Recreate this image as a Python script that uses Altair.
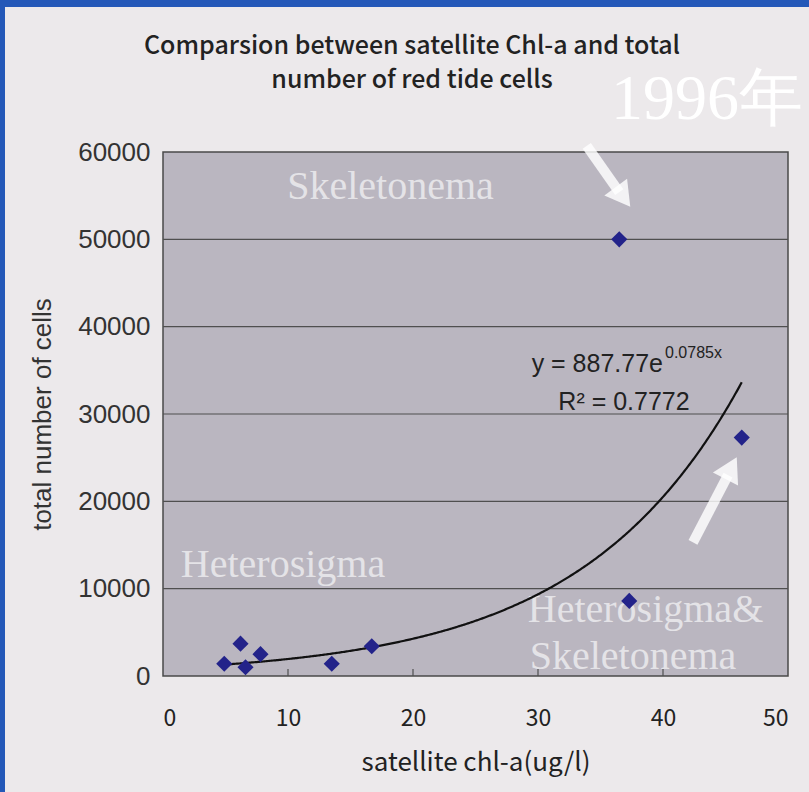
import altair as alt
import pandas as pd

# ---- data ----
chl = [4.9, 6.2, 6.6, 7.8, 13.5, 16.7, 36.5, 37.3, 46.3]
cells = [1400, 3700, 1000, 2500, 1400, 3400, 50000, 8600, 27300]
x_ticks = [0, 10, 20, 30, 40, 50]
y_ticks = [0, 10000, 20000, 30000, 40000, 50000, 60000]
fit_a = 887.77
fit_b = 0.0785
fit_r2 = 0.7772
fit_x_min = 4.9
fit_x_max = 46.4

title_lines = ["Comparsion between satellite Chl-a and total", "number of red tide cells"]
year_label = "1996年"
x_title = "satellite chl-a(ug/l)"
y_title = "total number of cells"

note_text = ["Skeletonema", "Heterosigma", "Heterosigma&", "Skeletonema"]
note_x = [18.2, 9.6, 38.6, 37.6]
note_y = [56000, 12700, 7600, 2200]

arrow_x = [33.9, 42.4]
arrow_y = [60700, 15300]
arrow_x2 = [36.5, 45.2]
arrow_y2 = [55400, 23000]
head_x = [36.8, 45.45]
head_y = [54850, 23800]
head_angle = [143.5, 27.4]

W, H = 625, 524
LEFT, TOP, RIGHT, BOTTOM = 163, 152, 21, 116

xs = alt.Scale(domain=[0, 50], nice=False, zero=False)
ys = alt.Scale(domain=[0, 60000], nice=False, zero=False)

x_axis = alt.Axis(values=x_ticks, grid=False, ticks=False, domain=False, zindex=2, format="d",
                  labelFont="Noto Sans CJK JP", labelFontSize=23, labelColor="#222",
                  labelPadding=31, titleFont="Noto Sans CJK JP", titleFontSize=26,
                  titleFontWeight="normal", titleColor="#222", titlePadding=19)
y_axis = alt.Axis(values=y_ticks, grid=False, ticks=False, domain=False, zindex=2, format="d",
                  labelFont="Liberation Sans", labelFontSize=26, labelColor="#333",
                  labelPadding=13, titleFont="Liberation Sans", titleFontSize=26,
                  titleFontWeight="normal", titleColor="#333", titlePadding=22)


def X(field):
    return alt.X(field, scale=xs, axis=x_axis, title=x_title)


def Y(field):
    return alt.Y(field, scale=ys, axis=y_axis, title=y_title)


one = pd.DataFrame({"k": [0]})

bg = alt.Chart(one).mark_rect(color="#ECE9EB").encode(
    x=alt.value(-LEFT + 5), x2=alt.value(W + RIGHT + 2),
    y=alt.value(-TOP + 7), y2=alt.value(H + BOTTOM + 2))

plot_bg = alt.Chart(one).mark_rect(fill="#BAB6C0", stroke="#4a4a4a", strokeWidth=1.5).encode(
    x=alt.value(0), x2=alt.value(W), y=alt.value(0), y2=alt.value(H))

grid = alt.Chart(pd.DataFrame({"v": y_ticks[1:-1]})).mark_rule(
    color="#4f4f4f", strokeWidth=1.2).encode(
    y=Y("v:Q"), x=alt.value(0), x2=alt.value(W))

xtick_marks = alt.Chart(pd.DataFrame({"v": x_ticks[1:-1]})).mark_rule(
    color="#4f4f4f", strokeWidth=1.2).encode(
    x=X("v:Q"), y=alt.value(H), y2=alt.value(H - 7))

notes = alt.Chart(pd.DataFrame({"t": note_text, "x": note_x, "y": note_y})).mark_text(
    font="Liberation Serif", fontSize=40, color="#ffffff", opacity=0.62).encode(
    x=X("x:Q"), y=Y("y:Q"), text="t:N")

arrows = alt.Chart(pd.DataFrame({"x": arrow_x, "y": arrow_y, "x2": arrow_x2, "y2": arrow_y2})).mark_rule(
    color="#ffffff", strokeWidth=10, opacity=0.82, strokeCap="butt").encode(
    x=X("x:Q"), y=Y("y:Q"), x2="x2:Q", y2="y2:Q")

heads = alt.Chart(pd.DataFrame({"x": head_x, "y": head_y, "a": head_angle})).mark_point(
    shape="triangle-up", filled=True, size=800, color="#ffffff", opacity=0.82).encode(
    x=X("x:Q"), y=Y("y:Q"), angle=alt.Angle("a:Q", scale=None))

trend = alt.Chart(alt.sequence(fit_x_min, fit_x_max, 0.1, as_="x")).transform_calculate(
    y=f"{fit_a} * exp({fit_b} * datum.x)").mark_line(color="#111111", strokeWidth=2.2).encode(
    x=X("x:Q"), y=Y("y:Q"))

points = alt.Chart(pd.DataFrame({"chl": chl, "cells": cells})).mark_point(
    shape="diamond", filled=True, size=260, color="#23238a", opacity=1).encode(
    x=X("chl:Q"), y=Y("cells:Q"))

eq1 = alt.Chart(one).mark_text(font="Liberation Sans", fontSize=25, color="#222", align="right",
                               baseline="alphabetic").encode(
    x=alt.value(500), y=alt.value(220), text=alt.value(f"y = {fit_a}e"))
eq_sup = alt.Chart(one).mark_text(font="Liberation Sans", fontSize=16, color="#222", align="left",
                                  baseline="alphabetic").encode(
    x=alt.value(502), y=alt.value(206), text=alt.value(f"{fit_b}x"))
eq2 = alt.Chart(one).mark_text(font="Liberation Sans", fontSize=25, color="#222", align="center",
                               baseline="alphabetic").encode(
    x=alt.value(461), y=alt.value(258), text=alt.value(f"R² = {fit_r2}"))

title = alt.Chart(one).mark_text(font="Noto Sans CJK JP", fontSize=25, fontWeight=500, color="#222",
                                 align="center", lineHeight=34).encode(
    x=alt.value(412 - LEFT), y=alt.value(46 - TOP), text=alt.value(title_lines))

year = alt.Chart(one).mark_text(font="Liberation Serif", fontSize=64, color="#ffffff",
                                align="center").encode(
    x=alt.value(707 - LEFT), y=alt.value(100 - TOP), text=alt.value(year_label))

chart = alt.layer(bg, plot_bg, grid, xtick_marks, notes, arrows, heads, trend, points,
                  eq1, eq_sup, eq2, title, year).properties(
    width=W, height=H,
    autosize=alt.AutoSizeParams(type="none"),
    padding={"left": LEFT, "top": TOP, "right": RIGHT, "bottom": BOTTOM},
    background="#2458b8",
).configure_view(stroke=None)

chart.save("out.html", embed_options={"renderer": "svg", "actions": False})
